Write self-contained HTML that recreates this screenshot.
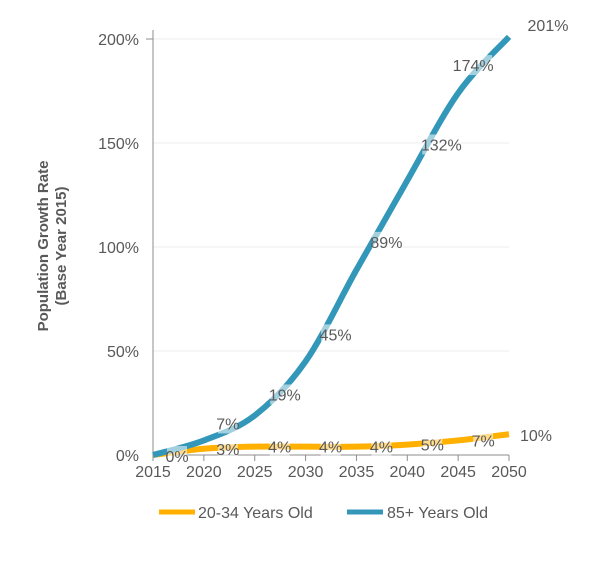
<!DOCTYPE html>
<html><head><meta charset="utf-8"><style>
body{margin:0;background:#fff;font-family:"Liberation Sans",Arial,sans-serif}
svg text{font-family:"Liberation Sans",Arial,sans-serif}
</style></head><body>
<svg id="chart" width="608" height="566" xmlns="http://www.w3.org/2000/svg">
<g id="grid"></g>
<g id="axes"></g>
<g id="series"></g>
<g id="labels"></g>
<text transform="translate(53,246) rotate(-90)" text-anchor="middle" font-size="15" font-weight="bold" fill="#595959"><tspan x="0" dy="-5">Population Growth Rate</tspan><tspan x="0" dy="18">(Base Year 2015)</tspan></text>
<g>
<g><line x1="159" y1="512" x2="195" y2="512" stroke="#FFB000" stroke-width="5"/><text x="198" y="518" font-size="16" fill="#595959">20-34 Years Old</text></g>
<g><line x1="347" y1="512" x2="383" y2="512" stroke="#3397B9" stroke-width="5"/><text x="387" y="518" font-size="16" fill="#595959">85+ Years Old</text></g>
</g>
</svg>
<script>
const years=[2015,2020,2025,2030,2035,2040,2045,2050];
const young=[0,3,4,4,4,5,7,10];
const old=[0,7,19,45,89,132,174,201];
const yTicks=[0,50,100,150,200];
const oldOff=[[0,0],[24,-17],[30,-21],[30,-27],[30,-28],[34,-36],[15,-28],[39,-12]];
const youngOff=[[24,1],[24,0],[25,0],[25,0],[25,0],[25,0],[25,0],[27,1]];
const NS="http://www.w3.org/2000/svg";
const X=v=>153+(v-2015)/35*356;
const Y=v=>455-v*2.08;
function mk(t,a,p){const e=document.createElementNS(NS,t);for(const k in a)e.setAttribute(k,a[k]);p.appendChild(e);return e;}
const grid=document.getElementById('grid'),axes=document.getElementById('axes'),ser=document.getElementById('series'),lab=document.getElementById('labels');
yTicks.forEach(t=>{
 if(t>0){const l=mk('line',{x1:153,x2:509,y1:Y(t),y2:Y(t),stroke:'#ececec','stroke-width':1},grid);
 
 }
 const tx=mk('text',{x:139,y:Y(t)+6,'text-anchor':'end','font-size':16,fill:'#595959'},axes);tx.textContent=t+'%';
 
 
});
mk('line',{x1:153,x2:153,y1:30,y2:455,stroke:'#8c8c8c'},axes);
mk('line',{x1:146,x2:153,y1:Y(200),y2:Y(200),stroke:'#8c8c8c'},axes);
mk('line',{x1:153,x2:509,y1:455,y2:455,stroke:'#8c8c8c'},axes);
years.forEach(y=>{
 mk('line',{x1:X(y),x2:X(y),y1:455,y2:461,stroke:'#8c8c8c'},axes);
 const tx=mk('text',{x:X(y),y:477,'text-anchor':'middle','font-size':16,fill:'#595959'},axes);tx.textContent=y;
 
 
});
function path(vals){const p=years.map((y,i)=>[X(y),Y(vals[i])]);let d='M'+p[0];
 for(let i=0;i<p.length-1;i++){const p0=p[i-1]||p[i],p1=p[i],p2=p[i+1],p3=p[i+2]||p2;
  d+=' C'+(p1[0]+(p2[0]-p0[0])/6)+','+(p1[1]+(p2[1]-p0[1])/6)+' '+(p2[0]-(p3[0]-p1[0])/6)+','+(p2[1]-(p3[1]-p1[1])/6)+' '+p2;}
 return d;}
const l1=mk('path',{d:path(young),fill:'none',stroke:'#FFB000','stroke-width':6},ser);


const l2=mk('path',{d:path(old),fill:'none',stroke:'#3397B9','stroke-width':6},ser);


function label(x,y,txt){
 const w=txt.length*9+2;
 const r=mk('rect',{x:x-w/2,y:y-10,width:w,height:20,fill:'#fff','fill-opacity':0.55},lab);
 
 
 const t=mk('text',{x:x,y:y+6,'text-anchor':'middle','font-size':16,fill:'#595959'},lab);t.textContent=txt;
 
 
}
years.forEach((y,i)=>{
 label(X(y)+youngOff[i][0],Y(young[i])+youngOff[i][1],young[i]+'%');
 if(i>0)label(X(y)+oldOff[i][0],Y(old[i])+oldOff[i][1],old[i]+'%');
});
</script>
</body></html>
